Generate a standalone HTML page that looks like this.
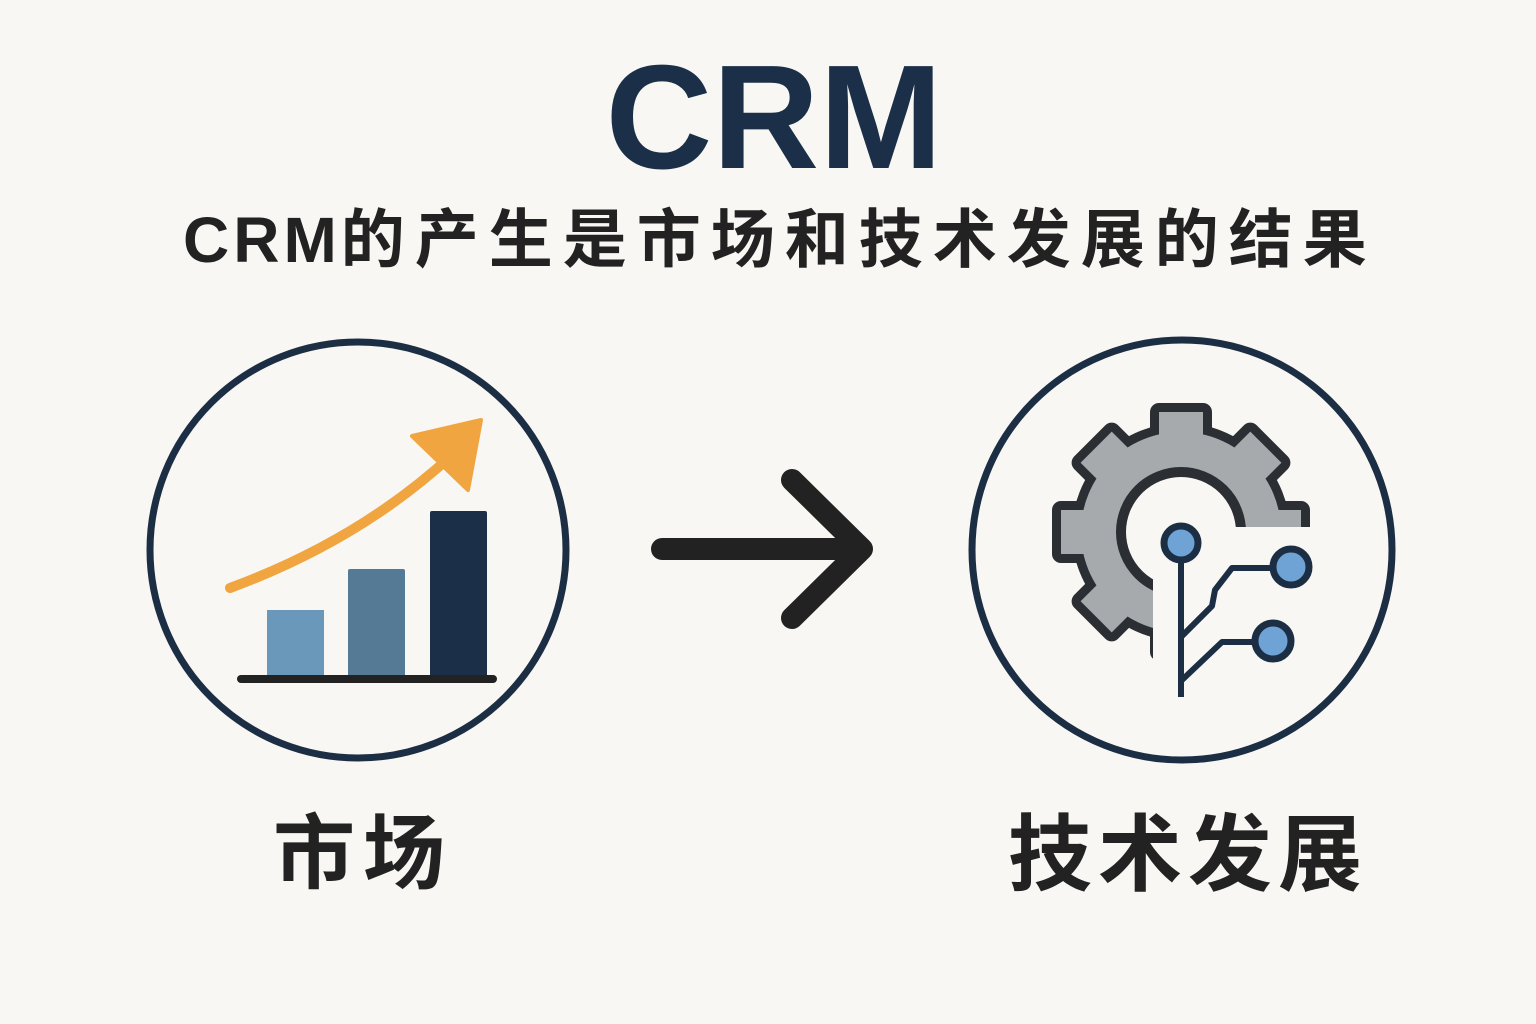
<!DOCTYPE html>
<html><head><meta charset="utf-8"><style>
html,body{margin:0;padding:0;background:#f8f7f3;}
.w{position:relative;width:1536px;height:1024px;overflow:hidden;font-family:"Liberation Sans","Noto Sans CJK SC",sans-serif;}
.t{position:absolute;white-space:nowrap;}
</style></head><body><div class="w">
<div class="t" style="left:6px;width:1536px;text-align:center;top:38px;font-size:148px;font-weight:bold;color:#1b3048;line-height:160px;">CRM</div>
<div class="t" style="left:183px;top:200px;font-size:64px;font-weight:bold;color:#222;line-height:80px;"><span style="letter-spacing:4px">CRM</span><span style="letter-spacing:10px">的产生是市场和技术发展的结果</span></div>
<div class="t" style="left:273px;top:805px;font-size:82px;font-weight:bold;color:#222;letter-spacing:8px;line-height:100px;">市场</div>
<div class="t" style="left:1008px;top:805px;font-size:84px;font-weight:bold;color:#222;letter-spacing:6px;line-height:100px;">技术发展</div>
<svg width="1536" height="1024" style="position:absolute;left:0;top:0">
<defs>
<clipPath id="gc"><path d="M1000 380 H1360 V527 H1153 V700 H1000 Z"/></clipPath>
<g id="gear">
<circle cx="1181" cy="532" r="100"/>
<rect x="1159" y="412" width="44" height="55" transform="rotate(0 1181 532)"/>
<rect x="1159" y="412" width="44" height="55" transform="rotate(45 1181 532)"/>
<rect x="1159" y="412" width="44" height="55" transform="rotate(90 1181 532)"/>
<rect x="1159" y="412" width="44" height="55" transform="rotate(135 1181 532)"/>
<rect x="1159" y="412" width="44" height="55" transform="rotate(180 1181 532)"/>
<rect x="1159" y="412" width="44" height="55" transform="rotate(225 1181 532)"/>
<rect x="1159" y="412" width="44" height="55" transform="rotate(270 1181 532)"/>
<rect x="1159" y="412" width="44" height="55" transform="rotate(315 1181 532)"/>
</g>
</defs>
<circle cx="358" cy="550" r="208" fill="none" stroke="#1c2e44" stroke-width="7"/>
<circle cx="1182" cy="550" r="210" fill="none" stroke="#1c2e44" stroke-width="7"/>
<rect x="267" y="610" width="57" height="67" fill="#6a98bb"/>
<rect x="348" y="569" width="57" height="108" fill="#557a96" rx="2"/>
<rect x="430" y="511" width="57" height="166" fill="#1b3048" rx="2"/>
<line x1="241" y1="679" x2="493" y2="679" stroke="#222" stroke-width="8" stroke-linecap="round"/>
<path d="M230 588 Q360 540 452 455" fill="none" stroke="#f0a540" stroke-width="10" stroke-linecap="round"/>
<path d="M412 436 L481 420 L468 490 Z" fill="#f0a540" stroke="#f0a540" stroke-width="4" stroke-linejoin="round"/>
<path d="M662 549 H862 M792 480 L862 549 L792 618" fill="none" stroke="#222" stroke-width="22" stroke-linecap="round" stroke-linejoin="round"/>
<g clip-path="url(#gc)">
<use href="#gear" fill="#2b2f33" stroke="#2b2f33" stroke-width="18" stroke-linejoin="round"/>
<use href="#gear" fill="#a7aaad"/>
<circle cx="1181" cy="532" r="60" fill="#f8f7f3" stroke="#2b2f33" stroke-width="10"/>
</g>
<g fill="none" stroke="#1c2e44" stroke-width="6" stroke-linejoin="round">
<line x1="1181" y1="560" x2="1181" y2="697"/>
<path d="M1182 636 L1212 606 L1215 590 L1232 568 L1273 568"/>
<path d="M1182 680 L1222 642 L1255 642"/>
</g>
<g fill="#6fa3d6" stroke="#1c2e44" stroke-width="7">
<circle cx="1181" cy="543" r="17"/>
<circle cx="1291" cy="567" r="18"/>
<circle cx="1273" cy="641" r="18"/>
</g>
</svg>
</div></body></html>
